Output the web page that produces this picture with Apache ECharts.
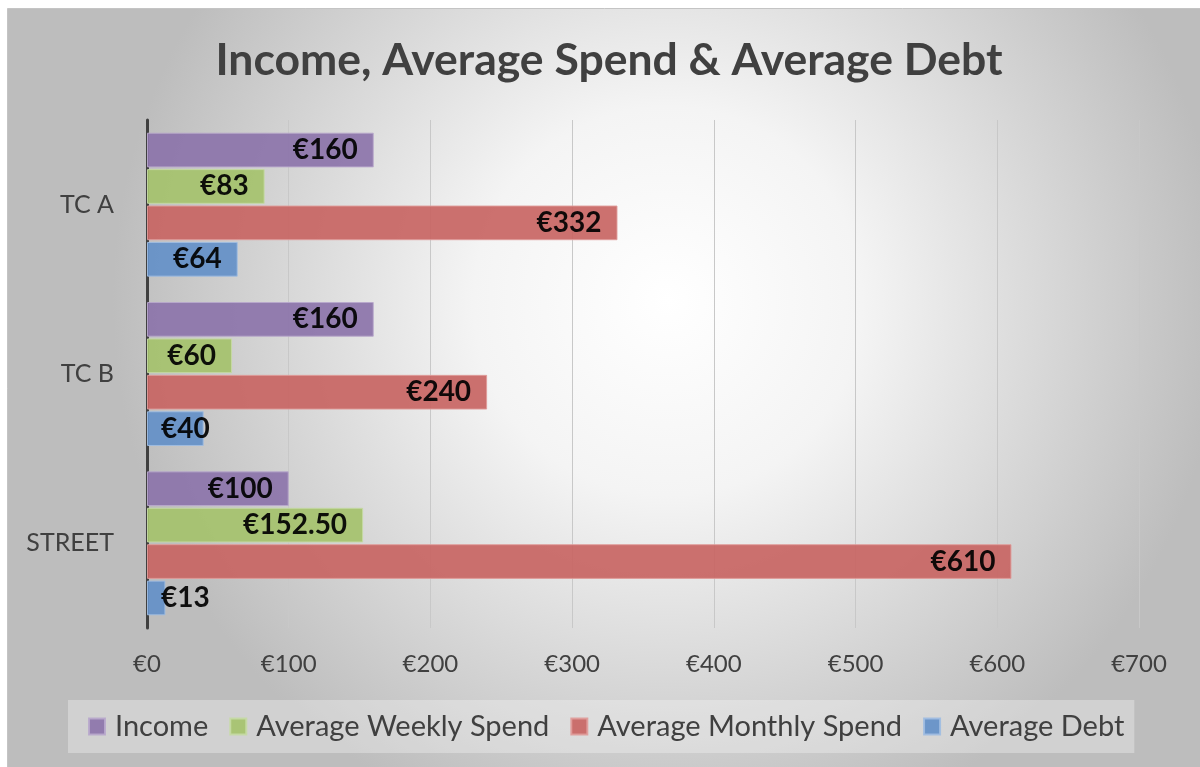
<!DOCTYPE html>
<html>
<head>
<meta charset="utf-8">
<script src="https://cdn.jsdelivr.net/npm/echarts@6/dist/echarts.min.js"></script>
<style>
html,body{margin:0;padding:0;background:#fff;}
#chart{width:1200px;height:767px;}
</style>
</head>
<body>
<div id="chart"></div>
<script>
const categories = ['TC A', 'TC B', 'STREET'];
const seriesNames = ['Income', 'Average Weekly Spend', 'Average Monthly Spend', 'Average Debt'];
const income = [160, 160, 100];
const weeklySpend = [83, 60, 152.5];
const monthlySpend = [332, 240, 610];
const debt = [64, 40, 13];
const xTicks = [0, 100, 200, 300, 400, 500, 600, 700];

const colors = ['#8C74AA', '#A5C26C', '#C86563', '#6490C8'];
const borders = ['#B8A8CC', '#C6DAA4', '#E09C9A', '#A0BDE2'];
const values = [income, weeklySpend, monthlySpend, debt];

function fmt(v) {
  return '€' + (Number.isInteger(v) ? v : v.toFixed(2));
}

const series = seriesNames.map((name, i) => ({
  name: name,
  type: 'bar',
  barCategoryGap: '15%',
  barGap: '5%',
  itemStyle: { color: colors[i], borderColor: borders[i], borderWidth: 1, opacity: 0.92 },
  label: {
    show: true,
    position: 'insideRight',
    distance: 16,
    formatter: p => fmt(p.value),
    fontFamily: 'Lato',
    fontWeight: 'bold',
    fontSize: 28,
    color: '#000'
  },
  data: values[i].map(v => v < 50 ? {
    value: v,
    label: { position: 'insideLeft', distance: 14 }
  } : v)
}));

const chart = echarts.init(document.getElementById('chart'));
chart.setOption({
  animation: false,
  color: colors,
  graphic: [{
    type: 'rect',
    z: -100,
    silent: true,
    shape: { x: 7.5, y: 8.5, width: 1200, height: 770 },
    style: {
      fill: new echarts.graphic.RadialGradient(0.55, 0.38, 0.72, [
        { offset: 0, color: '#ffffff' },
        { offset: 0.35, color: '#f4f4f4' },
        { offset: 1, color: '#bdbdbd' }
      ]),
      stroke: '#c4c4c4',
      lineWidth: 1
    }
  }],
  title: {
    text: 'Income, Average Spend & Average Debt',
    left: 604,
    textAlign: 'center',
    top: 33,
    textStyle: { fontFamily: 'Lato', fontWeight: 'bold', fontSize: 44.5, color: '#404040' }
  },
  legend: {
    data: seriesNames,
    left: 68,
    top: 700,
    padding: [12, 10, 12, 20],
    backgroundColor: 'rgba(245,245,245,0.35)',
    itemWidth: 16,
    itemHeight: 16,
    itemGap: 21,
    icon: 'rect',
    textStyle: { fontFamily: 'Lato', fontSize: 29, color: '#404040', padding: [0, 0, 0, 5] }
  },
  grid: { left: 147, right: 61, top: 120, bottom: 139, containLabel: false },
  xAxis: {
    type: 'value',
    min: xTicks[0],
    max: xTicks[xTicks.length - 1],
    interval: 100,
    axisLine: { show: false },
    axisTick: { show: false },
    splitLine: { show: true, lineStyle: { color: '#c8c8c8', width: 1 } },
    axisLabel: {
      formatter: v => '€' + v,
      fontFamily: 'Lato', fontSize: 24, color: '#404040', margin: 24
    }
  },
  yAxis: {
    type: 'category',
    data: categories,
    inverse: true,
    axisLine: { show: true, lineStyle: { color: '#404040', width: 3 } },
    axisTick: { show: false },
    axisLabel: { fontFamily: 'Lato', fontSize: 25, color: '#404040', margin: 33 }
  },
  series: series
});
</script>
</body>
</html>
